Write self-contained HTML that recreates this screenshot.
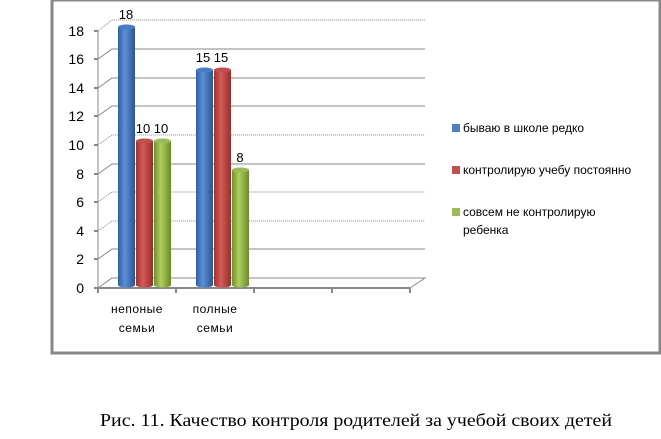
<!DOCTYPE html>
<html><head><meta charset="utf-8"><style>
body{margin:0;background:#fff;width:661px;height:439px;overflow:hidden}
svg{display:block}
text{font-family:"Liberation Sans","DejaVu Sans",sans-serif;fill:#000}
</style></head><body>
<svg width="661" height="439" viewBox="0 0 661 439">
<defs>
<linearGradient id="gb" x1="0" x2="1"><stop offset="0" stop-color="#2f5f9e"/><stop offset="0.4" stop-color="#5b8fd6"/><stop offset="1" stop-color="#2c5490"/></linearGradient>
<linearGradient id="gr" x1="0" x2="1"><stop offset="0" stop-color="#9c3230"/><stop offset="0.4" stop-color="#d65a57"/><stop offset="1" stop-color="#962f2d"/></linearGradient>
<linearGradient id="gg" x1="0" x2="1"><stop offset="0" stop-color="#6f8f2e"/><stop offset="0.4" stop-color="#aed05c"/><stop offset="1" stop-color="#6a8a2a"/></linearGradient>
</defs>
<rect x="52" y="0" width="608" height="353" fill="none" stroke="#888" stroke-width="3"/>
<g stroke="#888" stroke-width="1" fill="none">
<polyline points="98,288 112,278 425,278 410,288"/>
<polyline points="98,259 112,249 425,249"/>
<polyline points="98,231 112,221 425,221" stroke-dasharray="1,1"/>
<polyline points="98,202 112,192 425,192" stroke-dasharray="1,1"/>
<polyline points="98,174 112,164 425,164"/>
<polyline points="98,145 112,135 425,135" stroke-dasharray="1,1"/>
<polyline points="98,116 112,106 425,106"/>
<polyline points="98,88 112,78 425,78"/>
<polyline points="98,59 112,49 425,49"/>
<polyline points="98,31 112,20 425,20" stroke-dasharray="1,1"/>
<line x1="98" y1="31" x2="98" y2="288"/>
<line x1="98" y1="288" x2="410" y2="288" stroke-width="2"/>
</g>
<g stroke="#888" stroke-width="2">
<line x1="98" y1="288" x2="98" y2="293"/><line x1="176" y1="288" x2="176" y2="293"/><line x1="254" y1="288" x2="254" y2="293"/><line x1="332" y1="288" x2="332" y2="293"/><line x1="410" y1="288" x2="410" y2="293"/>
<line x1="94" y1="31" x2="98" y2="31"/><line x1="94" y1="59" x2="98" y2="59"/><line x1="94" y1="88" x2="98" y2="88"/><line x1="94" y1="116" x2="98" y2="116"/><line x1="94" y1="145" x2="98" y2="145"/><line x1="94" y1="174" x2="98" y2="174"/><line x1="94" y1="202" x2="98" y2="202"/><line x1="94" y1="231" x2="98" y2="231"/><line x1="94" y1="259" x2="98" y2="259"/><line x1="94" y1="288" x2="98" y2="288"/>
</g>
<g font-size="14" text-anchor="end">
<text x="84" y="36">18</text><text x="84" y="64">16</text><text x="84" y="93">14</text><text x="84" y="121">12</text><text x="84" y="150">10</text><text x="84" y="179">8</text><text x="84" y="207">6</text><text x="84" y="236">4</text><text x="84" y="264">2</text><text x="84" y="293">0</text>
</g>
<g>
<path d="M118,27 L118,285 A8.5,2.5 0 0 0 135,285 L135,27 Z" fill="url(#gb)"/><ellipse cx="126.5" cy="27" rx="8.5" ry="2.5" fill="#4a7cc4"/>
<path d="M136,141 L136,285 A8.5,2.5 0 0 0 153,285 L153,141 Z" fill="url(#gr)"/><ellipse cx="144.5" cy="141" rx="8.5" ry="2.5" fill="#c0504d"/>
<path d="M154,141 L154,285 A8.5,2.5 0 0 0 171,285 L171,141 Z" fill="url(#gg)"/><ellipse cx="162.5" cy="141" rx="8.5" ry="2.5" fill="#9bbb59"/>
<path d="M196,70 L196,285 A8.5,2.5 0 0 0 213,285 L213,70 Z" fill="url(#gb)"/><ellipse cx="204.5" cy="70" rx="8.5" ry="2.5" fill="#4a7cc4"/>
<path d="M214,70 L214,285 A8.5,2.5 0 0 0 231,285 L231,70 Z" fill="url(#gr)"/><ellipse cx="222.5" cy="70" rx="8.5" ry="2.5" fill="#c0504d"/>
<path d="M232,170 L232,285 A8.5,2.5 0 0 0 249,285 L249,170 Z" fill="url(#gg)"/><ellipse cx="240.5" cy="170" rx="8.5" ry="2.5" fill="#9bbb59"/>
</g>
<g font-size="13" text-anchor="middle">
<text x="126" y="19">18</text><text x="143" y="133">10</text><text x="161" y="133">10</text>
<text x="203" y="62">15</text><text x="221" y="62">15</text><text x="240" y="162">8</text>
</g>
<g font-size="12" text-anchor="middle" letter-spacing="0.5">
<text x="137" y="313">непоные</text><text x="137" y="332">семьи</text>
<text x="215" y="313">полные</text><text x="215" y="332">семьи</text>
</g>
<g font-size="12">
<rect x="452" y="124" width="8" height="8" fill="#4f81bd"/><text x="463" y="132">бываю в школе редко</text>
<rect x="452" y="166" width="8" height="8" fill="#c0504d"/><text x="463" y="174">контролирую учебу постоянно</text>
<rect x="452" y="208" width="8" height="8" fill="#9bbb59"/><text x="463" y="216">совсем не контролирую</text>
<text x="463" y="234">ребенка</text>
</g>
<text x="100" y="426" font-size="18" textLength="512" lengthAdjust="spacingAndGlyphs" style="font-family:'Liberation Serif',serif">Рис. 11. Качество контроля родителей за учебой своих детей</text>
</svg>
</body></html>
